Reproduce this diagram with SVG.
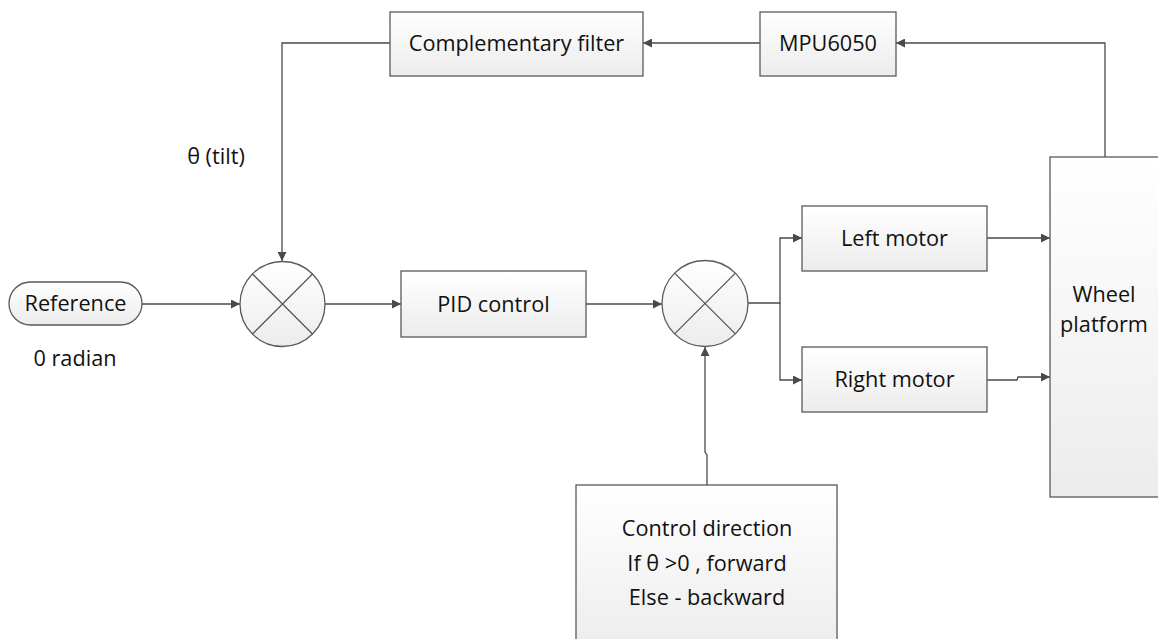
<svg xmlns="http://www.w3.org/2000/svg" width="1158" height="639" viewBox="0 0 1158 639">
<defs>
<linearGradient id="g" x1="0" y1="0" x2="0" y2="1"><stop offset="0" stop-color="#ffffff"/><stop offset="1" stop-color="#ececec"/></linearGradient>
<marker id="a" viewBox="0 0 10 10" refX="10" refY="5" markerWidth="9" markerHeight="9" orient="auto" markerUnits="userSpaceOnUse"><path d="M0,0 L10,5 L0,10 z" fill="#4a4a4a"/></marker>
</defs>
<style>
.b{fill:url(#g);stroke:#5a5a5a;stroke-width:1.3}
.t{font-family:"Open Sans","Liberation Sans",sans-serif;font-size:21.7px;fill:#111;text-anchor:middle}
.c{fill:none;stroke:#4a4a4a;stroke-width:1.3}
.x{stroke:#5a5a5a;stroke-width:1.3}
</style>
<rect width="1158" height="639" fill="#fff"/>
<g id="connectors">
<path class="c" d="M760,43 H643" marker-end="url(#a)"/>
<path class="c" d="M1105,157 V43 H896" marker-end="url(#a)"/>
<path class="c" d="M390,43 H282 V261" marker-end="url(#a)"/>
<path class="c" d="M142,304 H240" marker-end="url(#a)"/>
<path class="c" d="M325,304 H401" marker-end="url(#a)"/>
<path class="c" d="M586,304 H662" marker-end="url(#a)"/>
<path class="c" d="M748,303 H780 V238 H802" marker-end="url(#a)"/>
<path class="c" d="M780,303 V380 H802" marker-end="url(#a)"/>
<path class="c" d="M987,238 H1050" marker-end="url(#a)"/>
<path class="c" d="M987,380 H1017 L1018,377 H1050" marker-end="url(#a)"/>
<path class="c" d="M707,485 V455 L705,452 V347" marker-end="url(#a)"/>
</g>
<g id="reference"><rect class="b" x="9" y="282" width="133" height="43" rx="21.5"/><text class="t" x="75.5" y="311">Reference</text></g>
<text class="t" x="75" y="366">0 radian</text>
<text class="t" x="216" y="164">θ (tilt)</text>
<g id="sum1"><circle class="b" cx="282.5" cy="304" r="42.5"/><path class="x" d="M252.5,274 L312.5,334 M312.5,274 L252.5,334"/></g>
<g id="pid"><rect class="b" x="401" y="271" width="185" height="66"/><text class="t" x="493.5" y="312">PID control</text></g>
<g id="sum2"><circle class="b" cx="705" cy="303.5" r="43"/><path class="x" d="M674.6,273.1 L735.4,333.9 M735.4,273.1 L674.6,333.9"/></g>
<g id="leftmotor"><rect class="b" x="802" y="206" width="185" height="65"/><text class="t" x="894.5" y="246">Left motor</text></g>
<g id="rightmotor"><rect class="b" x="802" y="347" width="185" height="65"/><text class="t" x="894.5" y="387">Right motor</text></g>
<g id="wheel"><rect class="b" x="1050" y="157" width="120" height="340"/><text class="t" x="1104" y="302">Wheel</text><text class="t" x="1104" y="332">platform</text></g>
<g id="compfilter"><rect class="b" x="390" y="12" width="253" height="64"/><text class="t" x="516.5" y="51">Complementary filter</text></g>
<g id="mpu"><rect class="b" x="760" y="12" width="136" height="64"/><text class="t" x="828" y="51">MPU6050</text></g>
<g id="direction"><rect class="b" x="576" y="485" width="261" height="170"/><text class="t" x="707" y="536">Control direction</text><text class="t" x="707" y="571">If θ &gt;0 , forward</text><text class="t" x="707" y="605">Else - backward</text></g>
</svg>
